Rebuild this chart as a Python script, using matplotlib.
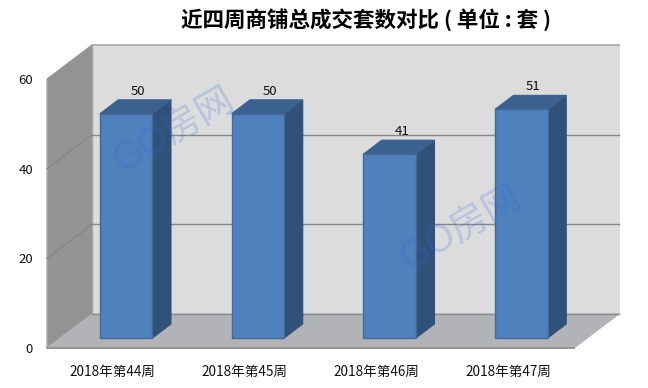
import matplotlib
matplotlib.use('Agg')
import matplotlib.pyplot as plt
from matplotlib.patches import Polygon

plt.rcParams['font.family'] = ['Noto Sans CJK SC', 'DejaVu Sans']

weeks = ['2018年第44周', '2018年第45周', '2018年第46周', '2018年第47周']
values = [50, 50, 41, 51]
yticks = [0, 20, 40, 60]

# size of the fake 3d depth, in data units
depth_x = 45 / 131.75
depth_y = 34 / (269 / 60)
bar_width = 0.4
bar_front = 10 / 34
bar_back = 24 / 34


def proj(x, y, d=0.0):
    return (x + d * depth_x, y + d * depth_y)


def face(ax, pts, color, edge=None, z=1, lw=0.8):
    ax.add_patch(Polygon(pts, closed=True, facecolor=color, edgecolor=edge or color,
                         linewidth=lw, zorder=z, clip_on=False))


fig = plt.figure(figsize=(6.48, 3.88), dpi=100)
ax = fig.add_axes([47 / 648, 40 / 388, 527 / 648, 269 / 388])
ax.set_xlim(0, 4)
ax.set_ylim(0, 60)
for s in ax.spines.values():
    s.set_visible(False)

# walls and floor
face(ax, [proj(0, 0, 1), proj(4, 0, 1), proj(4, 60, 1), proj(0, 60, 1)], '#DCDCDC', z=1)
face(ax, [proj(0, 0), proj(0, 0, 1), proj(0, 60, 1), proj(0, 60)], '#939393', z=1)
face(ax, [proj(0, 0), proj(4, 0), proj(4, 0, 1), proj(0, 0, 1)], '#B1B3B6', z=1)

# wall outlines
ax.plot(*zip(proj(0, 60, 1), proj(4, 60, 1)), color='#A6A6A6', lw=1.2, zorder=2, clip_on=False)
ax.plot(*zip(proj(0, 0, 1), proj(0, 60, 1)), color='#A6A6A6', lw=1, zorder=2, clip_on=False)
ax.plot(*zip(proj(0, 0, 1), proj(4, 0, 1)), color='#8C8C8C', lw=1, zorder=2, clip_on=False)
ax.plot(*zip(proj(0, 0), proj(0, 60)), color='#A6A6A6', lw=0.8, zorder=2, clip_on=False)
ax.plot(*zip(proj(0, 0), proj(4, 0)), color='#8C8C8C', lw=1.2, zorder=2, clip_on=False)

# gridlines, fainter on the side wall
for t in yticks[1:3]:
    ax.plot(*zip(proj(0, t), proj(0, t, 1)), color='#858585', lw=0.8, zorder=2, clip_on=False)
    ax.plot(*zip(proj(0, t, 1), proj(4, t, 1)), color='#868686', lw=1, zorder=2, clip_on=False)

# bars
for i, v in enumerate(values):
    l = i + 0.5 - bar_width / 2
    r = i + 0.5 + bar_width / 2
    face(ax, [proj(r, 0, bar_front), proj(r, 0, bar_back), proj(r, v, bar_back), proj(r, v, bar_front)],
         '#30527A', z=3)
    face(ax, [proj(l, v, bar_front), proj(r, v, bar_front), proj(r, v, bar_back), proj(l, v, bar_back)],
         '#3B6190', z=3)
    face(ax, [proj(l, 0, bar_front), proj(r, 0, bar_front), proj(r, v, bar_front), proj(l, v, bar_front)],
         '#4F81BD', edge='#41699A', z=4, lw=1)
    lx, ly = proj(i + 0.5, v, bar_back)
    ax.annotate(str(v), (lx, ly), xytext=(-6.5, 8.5), textcoords='offset pixels', ha='center',
                va='center', fontsize=9.5, color='#111111', zorder=6)

ax.set_xticks([i + 0.5 for i in range(len(weeks))])
ax.set_xticklabels(weeks, fontsize=9.8, color='#111111')
ax.set_yticks(yticks)
ax.set_yticklabels([str(t) for t in yticks], fontsize=9.5, color='#111111')
ax.tick_params(length=0)
ax.tick_params(axis='x', pad=12)
ax.tick_params(axis='y', pad=10)

fig.text(366 / 648, 1 - 20 / 388, '近四周商铺总成交套数对比 ( 单位 : 套 )', ha='center', va='center',
         fontsize=15.5, fontweight='bold', color='black')

# watermarks
for wx, wy in [(174, 131), (461, 229)]:
    fig.text(wx / 648, 1 - wy / 388, 'GO房网', ha='center', va='center', rotation=30,
             rotation_mode='anchor', fontsize=27, color='#3366E0', alpha=0.22, zorder=10,
             family=['Liberation Sans', 'Noto Sans CJK SC'])

fig.savefig('out.png', dpi=100)
